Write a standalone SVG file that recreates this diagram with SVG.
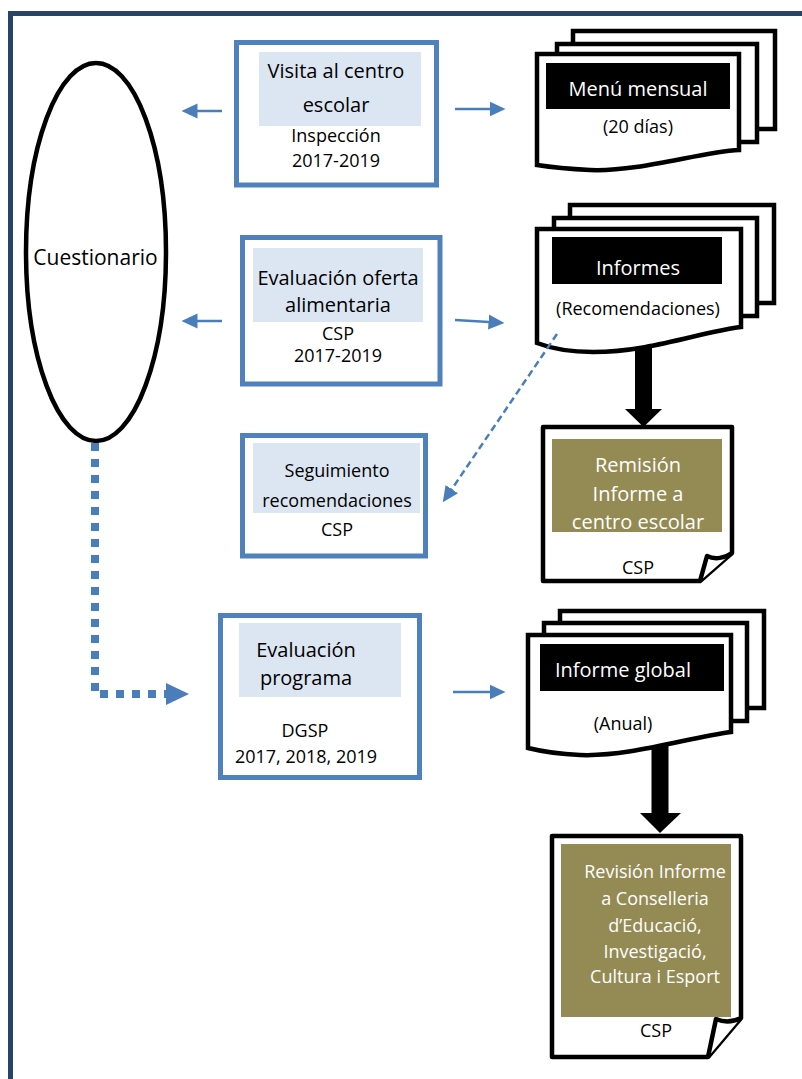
<svg xmlns="http://www.w3.org/2000/svg" width="802" height="1079" viewBox="0 0 802 1079">
<style>
text{font-family:"Open Sans","Noto Sans","Liberation Sans",sans-serif;text-anchor:middle;fill:#000}
.box{fill:#fff;stroke:#4F81BD;stroke-width:5}
.band{fill:#DCE6F2}
.t20{font-size:20px}
.t18{font-size:18px}
.doc{fill:#fff;stroke:#000;stroke-width:4.5;stroke-linejoin:miter}
.fold{fill:#fff;stroke:#000;stroke-width:4.5;stroke-linejoin:round}
.hdr{fill:#000}
.wt{fill:#fff}
.olive{fill:#948A54}
.thin{fill:none;stroke:#4A7EBB;stroke-width:2.5}
</style>
<defs>
<marker id="ah" markerUnits="userSpaceOnUse" markerWidth="16" markerHeight="16" viewBox="0 0 16 16" refX="0.5" refY="8" orient="auto">
<path d="M0,0.5 L16,8 L0,15.5 Z" fill="#4A7EBB"/>
</marker>
</defs>
<rect width="802" height="1079" fill="#fff"/>
<path d="M10.5,1079 V13.5 H802" fill="none" stroke="#274468" stroke-width="5"/>

<g id="cuestionario">
<ellipse cx="96" cy="252" rx="70" ry="189" fill="#fff" stroke="#000" stroke-width="4.5"/>
<text x="95.5" y="265" style="font-size:21px">Cuestionario</text>
</g>

<g id="visita">
<rect class="box" x="236.5" y="42.5" width="200" height="142.5"/>
<rect class="band" x="259" y="52" width="162" height="74"/>
<text class="t20" x="336" y="78">Visita al centro</text>
<text class="t20" x="336" y="112">escolar</text>
<text class="t18" x="336" y="142">Inspección</text>
<text class="t18" x="336" y="167">2017-2019</text>
</g>

<g id="evaluacion-oferta">
<rect class="box" x="242.5" y="237.5" width="197.5" height="146.5"/>
<rect class="band" x="253" y="248" width="170" height="74"/>
<text class="t20" x="338" y="285">Evaluación oferta</text>
<text class="t20" x="338" y="312">alimentaria</text>
<text class="t18" x="338" y="340">CSP</text>
<text class="t18" x="338" y="362">2017-2019</text>
</g>

<g id="seguimiento">
<rect class="box" x="242.5" y="435.5" width="183" height="120.5"/>
<rect class="band" x="253" y="443" width="167" height="70"/>
<text class="t18" x="337" y="477">Seguimiento</text>
<text class="t18" x="337" y="507">recomendaciones</text>
<text class="t18" x="337" y="536">CSP</text>
</g>

<g id="evaluacion-programa">
<rect class="box" x="220.5" y="615.5" width="199" height="162"/>
<rect class="band" x="239" y="623" width="162" height="74"/>
<text class="t20" x="306" y="657">Evaluación</text>
<text class="t20" x="306" y="685">programa</text>
<text class="t18" x="305" y="737">DGSP</text>
<text class="t18" x="306" y="763">2017, 2018, 2019</text>
</g>

<g id="menu-mensual">
<rect class="doc" x="573" y="31" width="202" height="98"/>
<rect class="doc" x="557" y="44" width="200" height="98"/>
<path class="doc" d="M537,54 H739 V150 C700,152 640,172 590,170 C570,169 550,167 537,165 Z"/>
<rect class="hdr" x="546" y="63" width="184" height="46"/>
<text class="wt" x="638" y="96" style="font-size:20px">Menú mensual</text>
<text class="t18" x="638" y="133">(20 días)</text>
</g>

<g id="informes">
<rect class="doc" x="570" y="205" width="204" height="98"/>
<rect class="doc" x="554" y="218" width="203" height="98"/>
<path class="doc" d="M537,229 H741 V327 C700,332 650,352 593,352 C570,352 550,348 537,343 Z"/>
<rect class="hdr" x="552" y="237" width="170" height="47"/>
<text class="wt" x="638" y="275" style="font-size:20px">Informes</text>
<text class="t18" x="638" y="315">(Recomendaciones)</text>
</g>

<g id="remision">
<path class="fold" d="M543,427 H732 V553 L700,581 H543 Z"/>
<path class="fold" d="M700,581 L707,556 C715,560 725,558 732,553"/>
<rect class="olive" x="552" y="439" width="170" height="93"/>
<text class="wt" x="638" y="472" style="font-size:20px">Remisión</text>
<text class="wt" x="638" y="501" style="font-size:20px">Informe a</text>
<text class="wt" x="638" y="529" style="font-size:20px">centro escolar</text>
<text class="t18" x="638" y="574">CSP</text>
</g>

<g id="informe-global">
<rect class="doc" x="560" y="611" width="204" height="97"/>
<rect class="doc" x="544" y="623" width="203" height="98"/>
<path class="doc" d="M528,635 H731 V732 C690,737 630,757 580,755 C558,754 540,751 528,748 Z"/>
<rect class="hdr" x="540" y="644" width="184" height="47"/>
<text class="wt" x="623" y="677" style="font-size:20px">Informe global</text>
<text class="t18" x="623" y="730">(Anual)</text>
</g>

<g id="revision">
<path class="fold" d="M552,836 H741 V1018 L708,1057 H552 Z"/>
<path class="fold" d="M708,1057 L716,1019 C725,1023 733,1022 741,1018"/>
<rect class="olive" x="561" y="844" width="170" height="173"/>
<text class="wt" x="655" y="878" style="font-size:18px">Revisión Informe</text>
<text class="wt" x="655" y="905" style="font-size:18px">a Conselleria</text>
<text class="wt" x="655" y="932" style="font-size:18px">d’Educació,</text>
<text class="wt" x="655" y="958" style="font-size:18px">Investigació,</text>
<text class="wt" x="655" y="983" style="font-size:18px">Cultura i Esport</text>
<text class="t18" x="656" y="1037">CSP</text>
</g>

<g id="connectors">
<line class="thin" x1="222" y1="111" x2="197" y2="111" marker-end="url(#ah)"/>
<line class="thin" x1="455" y1="109" x2="490" y2="109" marker-end="url(#ah)"/>
<line class="thin" x1="222" y1="321" x2="197" y2="321" marker-end="url(#ah)"/>
<line class="thin" x1="455" y1="320" x2="489" y2="322" marker-end="url(#ah)"/>
<line class="thin" x1="453" y1="692" x2="490" y2="692" marker-end="url(#ah)"/>
<line class="thin" x1="557" y1="334" x2="451.5" y2="489.5" stroke-dasharray="7 4" marker-end="url(#ah)"/>
<path d="M95,443 V694 H166" fill="none" stroke="#4A7EBB" stroke-width="8" stroke-dasharray="8 8"/>
<polygon points="166,683 189,694 166,705" fill="#4A7EBB"/>
<polygon points="635,347 652,347 652,409 662,409 643.5,427 625,409 635,409" fill="#000"/>
<polygon points="651.5,746 668.5,746 668.5,813 681,813 660,833 640,813 651.5,813" fill="#000"/>
</g>
</svg>
